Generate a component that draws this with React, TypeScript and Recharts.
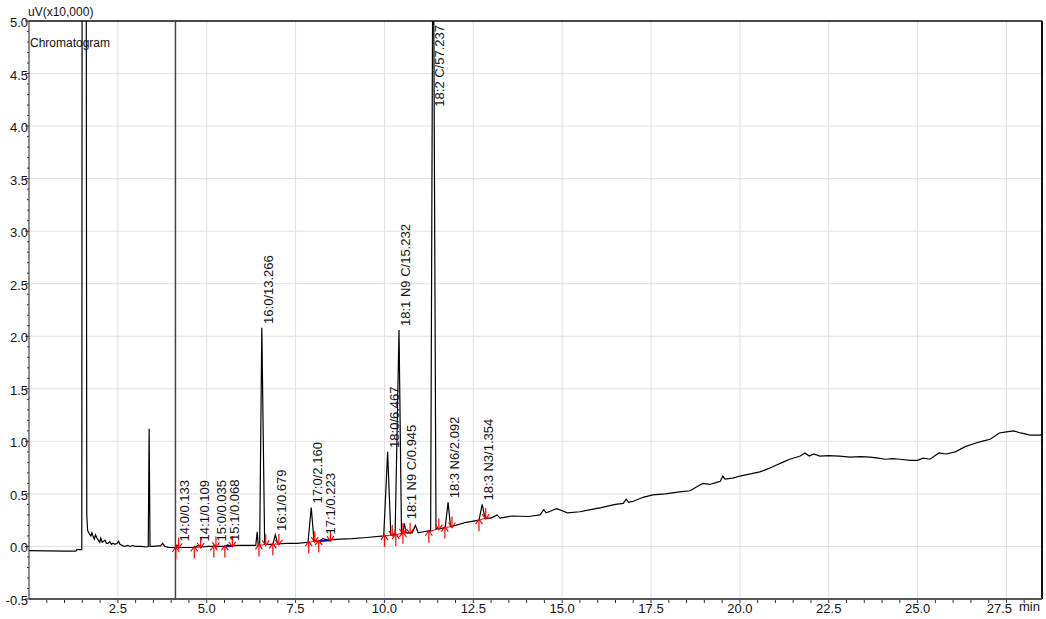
import React from "react";
import {
  ComposedChart,
  Line,
  Scatter,
  XAxis,
  YAxis,
  CartesianGrid,
  ReferenceLine,
} from "recharts";

// retention time (min) / signal (uV x10,000)
const trace: [number, number][] = [
  [0.0, -0.04], [0.5, -0.042], [1.0, -0.045], [1.32, -0.045], [1.35, -0.03],
  [1.485, -0.03], [1.5, 9], [1.6, 9], [1.625, 0.3], [1.65, 0.15],
  [1.7, 0.12], [1.74, 0.1], [1.77, 0.13], [1.8, 0.1], [1.84, 0.07],
  [1.87, 0.11], [1.91, 0.08], [1.95, 0.06], [1.99, 0.04], [2.02, 0.08],
  [2.06, 0.04], [2.1, 0.05], [2.14, 0.06], [2.18, 0.03], [2.22, 0.03],
  [2.27, 0.045], [2.32, 0.02], [2.36, 0.03], [2.42, 0.02], [2.48, 0.03],
  [2.52, 0.05], [2.56, 0.02], [2.62, 0.01], [2.69, 0.0], [2.78, 0.01],
  [2.85, 0.0], [2.92, 0.01], [3.0, 0.0], [3.15, 0.0], [3.3, -0.005],
  [3.355, 0.0], [3.38, 1.12], [3.405, 0.0], [3.5, 0.0], [3.62, 0.005],
  [3.7, 0.005], [3.76, 0.03], [3.82, 0.0], [3.95, -0.01], [4.05, -0.01],
  [4.13, -0.015], [4.18, 0.01], [4.23, -0.01], [4.45, -0.01], [4.65, -0.01],
  [4.76, 0.01], [4.85, -0.005], [5.05, 0.0], [5.2, 0.0], [5.23, 0.01],
  [5.28, 0.0], [5.5, 0.0], [5.58, 0.015], [5.66, 0.005], [5.9, 0.01],
  [6.15, 0.01], [6.38, 0.01], [6.42, 0.14], [6.45, 0.01], [6.49, 0.01],
  [6.55, 2.08], [6.63, 0.02], [6.72, 0.02], [6.86, 0.02], [6.93, 0.11],
  [7.0, 0.025], [7.25, 0.03], [7.55, 0.03], [7.85, 0.04], [7.94, 0.37],
  [8.02, 0.05], [8.15, 0.05], [8.27, 0.075], [8.4, 0.06], [8.75, 0.07],
  [9.1, 0.075], [9.5, 0.085], [9.98, 0.1], [10.09, 0.9], [10.18, 0.11],
  [10.3, 0.11], [10.41, 2.06], [10.48, 0.12], [10.52, 0.14], [10.56, 0.22],
  [10.61, 0.13], [10.78, 0.13], [10.87, 0.2], [10.95, 0.13], [11.1, 0.14],
  [11.3, 0.15], [11.37, 6.5], [11.45, 0.17], [11.58, 0.17], [11.71, 0.18],
  [11.79, 0.42], [11.86, 0.19], [12.0, 0.2], [12.3, 0.23], [12.66, 0.25],
  [12.75, 0.4], [12.83, 0.27], [13.0, 0.27], [13.17, 0.3], [13.25, 0.27],
  [13.6, 0.29], [14.05, 0.285], [14.38, 0.3], [14.48, 0.35], [14.55, 0.32],
  [14.7, 0.34], [14.85, 0.36], [15.0, 0.34], [15.15, 0.32], [15.5, 0.33],
  [15.8, 0.35], [16.1, 0.37], [16.5, 0.4], [16.72, 0.41], [16.8, 0.45],
  [16.87, 0.42], [17.0, 0.43], [17.3, 0.47], [17.55, 0.49], [17.9, 0.5],
  [18.3, 0.52], [18.6, 0.53], [18.8, 0.57], [18.96, 0.6], [19.15, 0.59],
  [19.35, 0.61], [19.45, 0.62], [19.52, 0.67], [19.58, 0.64], [19.8, 0.65],
  [20.0, 0.67], [20.3, 0.69], [20.56, 0.71], [20.8, 0.74], [21.0, 0.77],
  [21.2, 0.8], [21.4, 0.83], [21.7, 0.86], [21.83, 0.89], [21.95, 0.86],
  [22.08, 0.88], [22.25, 0.86], [22.5, 0.865], [22.8, 0.86], [23.1, 0.85],
  [23.4, 0.855], [23.66, 0.85], [23.9, 0.84], [24.1, 0.83], [24.3, 0.835],
  [24.5, 0.83], [24.8, 0.82], [25.0, 0.82], [25.15, 0.84], [25.35, 0.83],
  [25.6, 0.89], [25.8, 0.88], [26.06, 0.9], [26.34, 0.95], [26.6, 0.98],
  [26.8, 1.0], [27.04, 1.02], [27.3, 1.08], [27.5, 1.09], [27.7, 1.1],
  [27.9, 1.08], [28.17, 1.06], [28.45, 1.06], [28.5, 1.07],
];

// integrated peaks: label, apex, start and end of the integration
const peaks = [
  { label: "14:0/0.133", t: 4.19, v: 0.01, t0: 4.13, v0: -0.015, t1: 4.21, v1: -0.01 },
  { label: "14:1/0.109", t: 4.76, v: 0.01, t0: 4.65, v0: -0.01, t1: 4.83, v1: -0.005 },
  { label: "15:0/0.035", t: 5.23, v: 0.01, t0: 5.2, v0: 0.0, t1: 5.26, v1: 0.0 },
  { label: "15:1/0.068", t: 5.6, v: 0.015, t0: 5.51, v0: 0.0, t1: 5.72, v1: 0.005 },
  { label: "16:0/13.266", t: 6.55, v: 2.08, t0: 6.47, v0: 0.01, t1: 6.66, v1: 0.02 },
  { label: "16:1/0.679", t: 6.93, v: 0.11, t0: 6.86, v0: 0.02, t1: 7.03, v1: 0.025 },
  { label: "17:0/2.160", t: 7.94, v: 0.37, t0: 7.87, v0: 0.04, t1: 8.04, v1: 0.05 },
  { label: "17:1/0.223", t: 8.31, v: 0.075, t0: 8.15, v0: 0.05, t1: 8.48, v1: 0.06 },
  { label: "18:0/6.467", t: 10.09, v: 0.9, t0: 10.0, v0: 0.1, t1: 10.22, v1: 0.11 },
  { label: "18:1 N9 C/15.232", t: 10.41, v: 2.06, t0: 10.32, v0: 0.11, t1: 10.52, v1: 0.13 },
  { label: "18:1 N9 C/0.945", t: 10.58, v: 0.22, t0: 10.52, v0: 0.13, t1: 10.72, v1: 0.13 },
  { label: "18:2 C/57.237", t: 11.37, v: 6.5, t0: 11.25, v0: 0.14, t1: 11.53, v1: 0.17 },
  { label: "18:3 N6/2.092", t: 11.79, v: 0.42, t0: 11.7, v0: 0.18, t1: 11.9, v1: 0.19 },
  { label: "18:3 N3/1.354", t: 12.75, v: 0.4, t0: 12.66, v0: 0.25, t1: 12.85, v1: 0.27 },
];
// peaks whose baseline was set by hand (drawn in blue)
const manualBaselinePeaks = ["15:1/0.068", "17:1/0.223"];

const xMajorTicks = [2.5, 5, 7.5, 10, 12.5, 15, 17.5, 20, 22.5, 25, 27.5];
const yMajorTicks = [-0.5, 0, 0.5, 1, 1.5, 2, 2.5, 3, 3.5, 4, 4.5, 5];
const xAllTicks = Array.from({ length: 57 }, (_, i) => i * 0.5);
const yAllTicks = Array.from({ length: 56 }, (_, i) => Math.round(i - 5) / 10);
const cursorTime = 4.12;

const W = 1046;
const H = 619;
const PLOT_TOP = 21;
const FONT = "'Liberation Sans', Arial, sans-serif";

const isMajor = (v: number, step: number) =>
  Math.abs(v / step - Math.round(v / step)) < 1e-6;

const XTick = (p: any) => {
  const { x, y, payload } = p;
  const v = payload.value;
  // last label sits a little left to leave room for "min"
  const shift = v === 27.5 ? -7 : 0;
  return (
    <g>
      {v > 0 && <line x1={x} y1={y + 1} x2={x} y2={y + 4} stroke="#333" />}
      {v > 0 && isMajor(v, 2.5) && (
        <text x={x + shift} y={y + 14} textAnchor="middle" fontSize={13} fontFamily={FONT} fill="#111">
          {v.toFixed(1)}
        </text>
      )}
    </g>
  );
};

const YTick = (p: any) => {
  const { x, y, payload } = p;
  const v = payload.value;
  const major = isMajor(v, 0.5);
  return (
    <g>
      <line x1={x - (major ? 4 : 2)} y1={y} x2={x} y2={y} stroke="#333" />
      {major && (
        <text x={x - 1} y={y + 6} textAnchor="end" fontSize={13} fontFamily={FONT} fill="#111">
          {v.toFixed(1)}
        </text>
      )}
    </g>
  );
};

const PeakLabel = (p: any) => {
  const { cx, cy, payload } = p;
  const x = cx + 11;
  const clipped = cy < PLOT_TOP + 95;
  const y = clipped ? PLOT_TOP + 4 : cy - 4;
  return (
    <text
      x={x}
      y={y}
      transform={`rotate(-90 ${x} ${y})`}
      textAnchor={clipped ? "end" : "start"}
      fontSize={13}
      fontFamily={FONT}
      fill="#111"
    >
      {payload.label}
    </text>
  );
};

const Marker = (p: any) => {
  const { cx, cy, payload } = p;
  if (payload.kind === "start") {
    return (
      <g stroke="#ff0000" strokeWidth={1.2} fill="none">
        <line x1={cx} y1={cy + 11} x2={cx} y2={cy - 1} />
        <polyline points={`${cx - 3.5},${cy + 4} ${cx},${cy - 1} ${cx + 3.5},${cy + 4}`} />
      </g>
    );
  }
  return (
    <g stroke="#ff0000" strokeWidth={1.2} fill="none">
      <line x1={cx} y1={cy - 10} x2={cx} y2={cy + 1} />
      <polyline points={`${cx - 3.5},${cy - 4} ${cx},${cy + 1} ${cx + 3.5},${cy - 4}`} />
    </g>
  );
};

export default function App() {
  const data = trace.map(([t, v]) => ({ t, v }));
  const labelPoints = peaks.map((pk) => ({ t: pk.t, v: pk.v, label: pk.label }));
  const markerPoints = peaks.flatMap((pk) => [
    { t: pk.t0, v: pk.v0, kind: "start" },
    { t: pk.t1, v: pk.v1, kind: "end" },
  ]);

  return (
    <div
      style={{
        position: "absolute",
        left: 0,
        top: 0,
        width: W,
        height: H,
        background: "#fff",
        fontFamily: FONT,
      }}
    >
      <ComposedChart
        width={W}
        height={H}
        data={data}
        margin={{ top: PLOT_TOP, right: 4, bottom: 0, left: 0 }}
      >
        <CartesianGrid
          stroke="#e0e0e0"
          horizontalValues={yMajorTicks}
          verticalValues={xMajorTicks}
        />
        <XAxis
          dataKey="t"
          type="number"
          domain={[0, 28.5]}
          ticks={xAllTicks}
          interval={0}
          allowDataOverflow
          tickLine={false}
          tickSize={0}
          tickMargin={0}
          tick={<XTick />}
          axisLine={{ stroke: "#555", strokeWidth: 2 }}
          height={20}
        />
        <YAxis
          type="number"
          domain={[-0.5, 5]}
          ticks={yAllTicks}
          interval={0}
          allowDataOverflow
          tickLine={false}
          tickSize={0}
          tickMargin={0}
          tick={<YTick />}
          axisLine={{ stroke: "#222", strokeWidth: 1 }}
          width={29}
        />
        <ReferenceLine y={5} stroke="#111" strokeWidth={1.5} />
        <ReferenceLine x={28.5} stroke="#111" strokeWidth={2} />
        <ReferenceLine x={cursorTime} stroke="#444" strokeWidth={1.5} />
        {peaks.map((pk) => (
          <ReferenceLine
            key={pk.label}
            segment={[
              { x: pk.t0, y: pk.v0 },
              { x: pk.t1, y: pk.v1 },
            ]}
            stroke={manualBaselinePeaks.includes(pk.label) ? "#1010e0" : "#ff0000"}
            strokeWidth={manualBaselinePeaks.includes(pk.label) ? 2 : 1}
          />
        ))}
        <Line
          dataKey="v"
          type="linear"
          stroke="#000"
          strokeWidth={1.2}
          dot={false}
          activeDot={false}
          isAnimationActive={false}
        />
        <Scatter data={markerPoints} dataKey="v" shape={<Marker />} isAnimationActive={false} />
        <Scatter data={labelPoints} dataKey="v" shape={<PeakLabel />} isAnimationActive={false} />
      </ComposedChart>
      <div style={{ position: "absolute", left: 28, top: 5, fontSize: 12, lineHeight: "14px", color: "#111" }}>
        uV(x10,000)
      </div>
      <div style={{ position: "absolute", left: 30, top: 36, fontSize: 12, lineHeight: "14px", color: "#111" }}>
        Chromatogram
      </div>
      <div style={{ position: "absolute", left: 1019, top: 599, fontSize: 13, lineHeight: "15px", color: "#111" }}>
        min
      </div>
    </div>
  );
}
